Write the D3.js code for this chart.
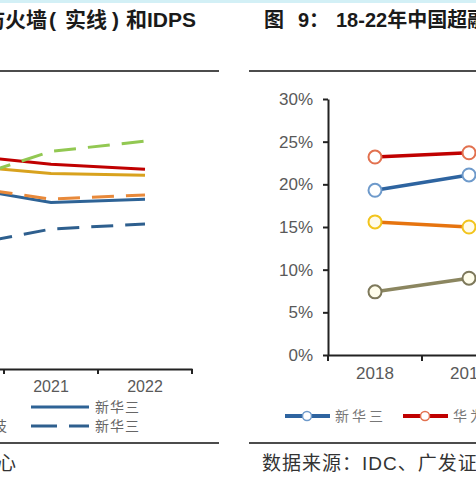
<!DOCTYPE html>
<html><head><meta charset="utf-8">
<script src="https://cdn.jsdelivr.net/npm/d3@7"></script>
<style>
html,body{margin:0;padding:0;background:#fff;overflow:hidden}
svg{display:block}
text{font-family:Arial,"Liberation Sans","Noto Sans CJK SC",sans-serif}
</style></head>
<body>
<svg id="c" width="476" height="477"></svg>
<script>
// ---------- data ----------
const leftYears = ["2020", "2021", "2022"];
const leftSolid = [
  {name: "华为", color: "#C00000", values: [25.1, 24.0, 23.4]},
  {name: "天融信", color: "#D8A21E", values: [23.9, 22.9, 22.7]},
  {name: "新华三", color: "#2E6396", values: [21.4, 19.5, 19.9]}
];
const leftDashed = [
  {name: "启明星辰", color: "#92C852", values: [21.9, 25.5, 26.7]},
  {name: "绿盟科技", color: "#E8893A", values: [21.5, 19.9, 20.4]},
  {name: "新华三", color: "#2E5F8E", values: [14.3, 16.4, 17.0]}
];
const leftLegend = ["新华三", "新华三"];

const rightYears = ["2018", "2019", "2020", "2021", "2022"];
const rightSeries = [
  {name: "新华三", line: "#2E64A0", marker: "#6E9ACB", fill: "#ffffff", values: [19.3, 21.1]},
  {name: "华为", line: "#C00000", marker: "#E2714F", fill: "#ffffff", values: [23.2, 23.7]},
  {name: "天融信", line: "#E6740F", marker: "#F2C41C", fill: "#FFFBEA", values: [15.6, 15.0]},
  {name: "深信服", line: "#8B8660", marker: "#7D785A", fill: "#FFFDEB", values: [7.4, 9.0]}
];
const rightTicks = [0, 5, 10, 15, 20, 25, 30];

const leftTitleParts = ["防", "火墙", "(", "实线", ")", "和IDPS"];
const rightTitleParts = ["图", "9：", "18-22年中国超融合"];
const leftSource = "数据来源：IDC、广发证券发展研究中心";
const rightSource = "数据来源：IDC、广发证券发展研究中心";

// ---------- drawing ----------
const svg = d3.select("#c");
const cjk = "'Noto Sans CJK SC',sans-serif";
svg.append("rect").attr("x", 0).attr("y", 0).attr("width", 476).attr("height", 3).attr("fill", "#d3f0f6");

// titles
const leftTitleX = [5, 5, 49, 65, 112, 126];
leftTitleParts.forEach((t, i) => svg.append("text").attr("x", leftTitleX[i]).attr("y", 27)
  .attr("text-anchor", i === 0 ? "end" : "start")
  .attr("font-size", 21).attr("font-weight", "bold").attr("fill", "#1a1a1a")
  .attr("font-family", cjk).text(t));
[264, 298, 336].forEach((x, i) => svg.append("text").attr("x", x).attr("y", 27)
  .attr("font-size", 20).attr("font-weight", "bold").attr("fill", "#1a1a1a")
  .attr("font-family", cjk).text(rightTitleParts[i]));

// rules
[[0, 219], [249, 476]].forEach(([a, b]) => {
  [71, 443].forEach(y => svg.append("line").attr("x1", a).attr("x2", b).attr("y1", y).attr("y2", y)
    .attr("stroke", "#111").attr("stroke-width", 1.5));
});

// sources
svg.append("text").attr("x", 16).attr("y", 470).attr("text-anchor", "end")
  .attr("font-size", 19).attr("fill", "#333").attr("font-family", cjk).text(leftSource);
svg.append("text").attr("x", 262).attr("y", 470).attr("letter-spacing", 1)
  .attr("font-size", 19).attr("fill", "#333").attr("font-family", cjk).text(rightSource);

// ----- left chart -----
const lx = d3.scaleBand().domain(leftYears).range([-90, 192]);
const ly = d3.scaleLinear().domain([0, 30]).range([369, 113]);
const lcx = d => lx(d) + lx.bandwidth() / 2;

const lAxis = svg.append("g").attr("transform", "translate(0,369)")
  .call(d3.axisBottom(lx).tickSize(0).tickPadding(12));
lAxis.select(".domain").attr("stroke", "#222").attr("stroke-width", 2);
lAxis.selectAll("text").attr("font-size", 16).attr("fill", "#595959").attr("font-family", "Arial,'Liberation Sans',sans-serif");
leftYears.forEach(y => {
  const bx = lx(y) + lx.bandwidth();
  lAxis.append("line").attr("x1", bx).attr("x2", bx).attr("y1", 0).attr("y2", 5).attr("stroke", "#222").attr("stroke-width", 2);
});

const lline = d3.line().x((d, i) => lcx(leftYears[i])).y(d => ly(d));
leftSolid.forEach(s => svg.append("path").attr("d", lline(s.values)).attr("fill", "none")
  .attr("stroke", s.color).attr("stroke-width", 3));
leftDashed.forEach(s => svg.append("path").attr("d", lline(s.values)).attr("fill", "none")
  .attr("stroke", s.color).attr("stroke-width", 3).attr("stroke-dasharray", "22,12"));

// left legend
const legLeft = [{y: 407, dash: null, color: leftSolid[2].color}, {y: 426, dash: "26,12", color: leftDashed[2].color}];
legLeft.forEach((l, i) => {
  svg.append("line").attr("x1", 31).attr("x2", 89).attr("y1", l.y).attr("y2", l.y)
    .attr("stroke", l.color).attr("stroke-width", 3).attr("stroke-dasharray", l.dash);
  svg.append("text").attr("x", 95).attr("y", l.y + 5).attr("font-size", 14).attr("fill", "#666")
    .attr("letter-spacing", 1).attr("font-family", cjk).text(leftLegend[i]);
});
svg.append("text").attr("x", 7).attr("y", 431).attr("text-anchor", "end").attr("font-size", 14).attr("fill", "#666")
  .attr("font-family", cjk).text("科技");

// ----- right chart -----
const rx = d3.scaleBand().domain(rightYears).range([328, 328 + 94 * rightYears.length]);
const ry = d3.scaleLinear().domain([0, 30]).range([355, 99]);
const rcx = d => rx(d) + rx.bandwidth() / 2;

const yAxis = svg.append("g").attr("transform", "translate(328,0)")
  .call(d3.axisLeft(ry).tickValues(rightTicks).tickFormat(d => d + "%").tickSizeOuter(0).tickSizeInner(5).tickPadding(10));
yAxis.select(".domain").attr("stroke", "#222").attr("stroke-width", 2);
yAxis.selectAll(".tick line").attr("stroke", "#222").attr("stroke-width", 2);
yAxis.selectAll("text").attr("font-size", 17).attr("fill", "#595959").attr("font-family", "Arial,'Liberation Sans',sans-serif");

const xAxis = svg.append("g").attr("transform", "translate(0,355)")
  .call(d3.axisBottom(rx).tickSize(0).tickPadding(12));
xAxis.select(".domain").attr("stroke", "#222").attr("stroke-width", 2);
xAxis.selectAll("text").attr("font-size", 17).attr("fill", "#595959").attr("font-family", "Arial,'Liberation Sans',sans-serif");
[rightYears[0]].concat(rightYears).forEach((y, i) => {
  const bx = i === 0 ? rx(y) : rx(y) + rx.bandwidth();
  xAxis.append("line").attr("x1", bx).attr("x2", bx).attr("y1", 0).attr("y2", 6).attr("stroke", "#222").attr("stroke-width", 2);
});

const rline = d3.line().x((d, i) => rcx(rightYears[i])).y(d => ry(d));
rightSeries.forEach(s => {
  svg.append("path").attr("d", rline(s.values)).attr("fill", "none").attr("stroke", s.line).attr("stroke-width", 3.5);
  s.values.forEach((v, i) => svg.append("circle").attr("cx", rcx(rightYears[i])).attr("cy", ry(v)).attr("r", 6.5)
    .attr("fill", s.fill).attr("stroke", s.marker).attr("stroke-width", 2));
});

// right legend
const legRight = [{x: 285, s: rightSeries[0]}, {x: 403, s: rightSeries[1]}];
legRight.forEach(l => {
  svg.append("line").attr("x1", l.x).attr("x2", l.x + 45).attr("y1", 416).attr("y2", 416)
    .attr("stroke", l.s.line).attr("stroke-width", 4);
  svg.append("circle").attr("cx", l.x + 22).attr("cy", 416).attr("r", 4.5)
    .attr("fill", "#fff").attr("stroke", l.s.marker).attr("stroke-width", 1.5);
  svg.append("text").attr("x", l.x + 50).attr("y", 421).attr("font-size", 14).attr("fill", "#777")
    .attr("letter-spacing", 3).attr("font-family", cjk).text(l.s.name);
});
</script>
</body></html>
